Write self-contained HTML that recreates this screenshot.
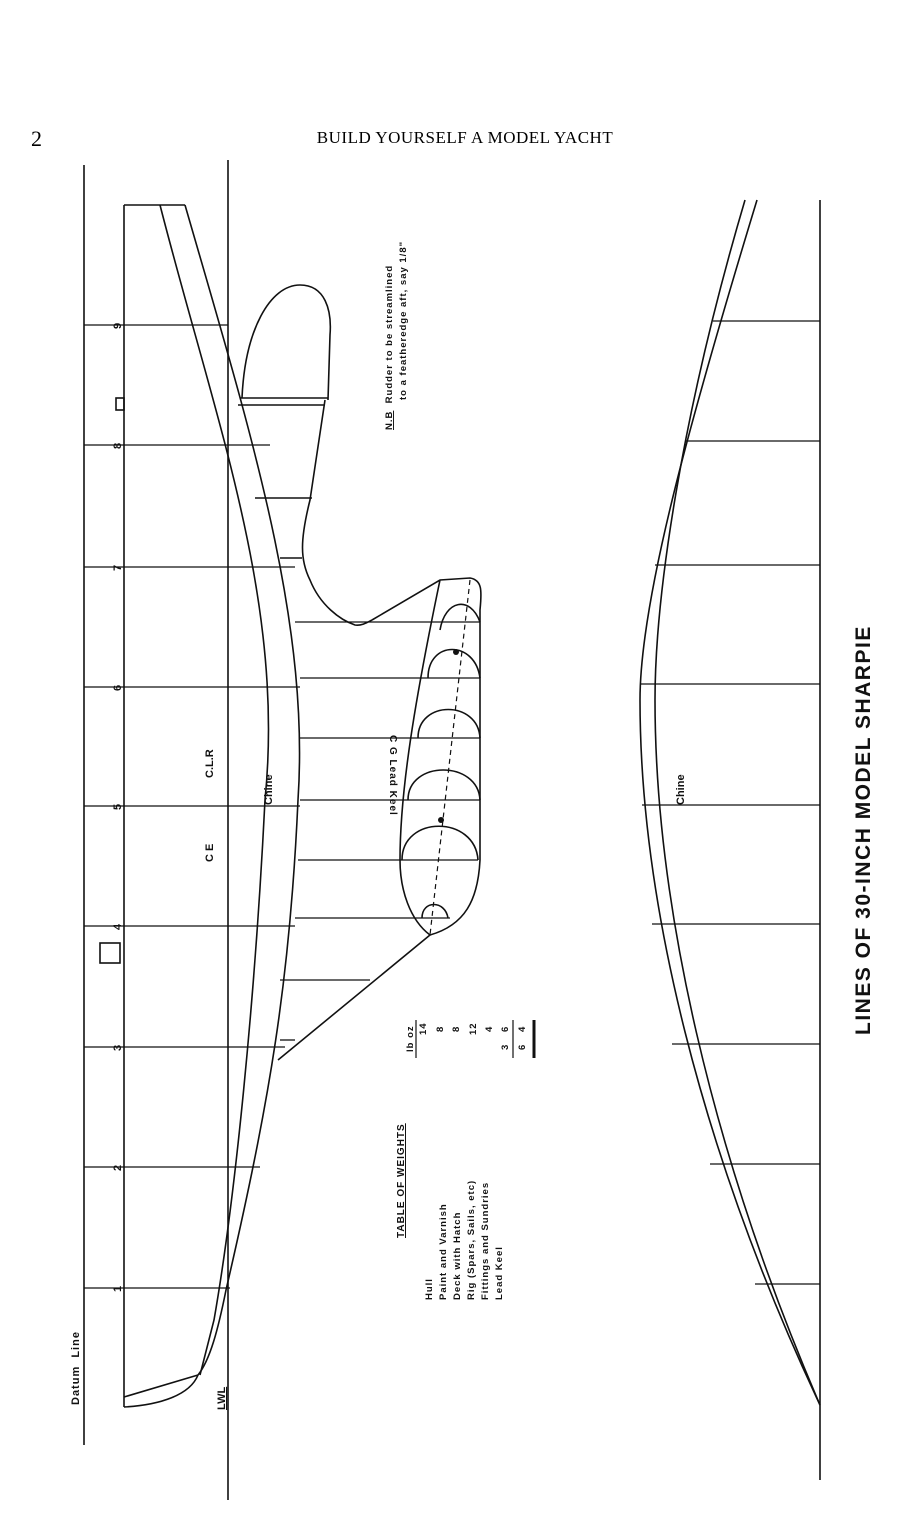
<!DOCTYPE html>
<html><head><meta charset="utf-8"><style>
html,body{margin:0;padding:0;background:#fff;}
svg{display:block}
</style></head><body>
<svg width="907" height="1525" viewBox="0 0 907 1525" xmlns="http://www.w3.org/2000/svg" font-family="Liberation Sans, sans-serif">
<rect width="907" height="1525" fill="#fff"/>
<text x="31" y="146" font-family="Liberation Serif, serif" font-size="22">2</text>
<text x="465" y="143" font-family="Liberation Serif, serif" font-size="17" text-anchor="middle" letter-spacing="0.5">BUILD YOURSELF A MODEL YACHT</text>

<g stroke="#111" stroke-width="1.6" fill="none">
<line x1="84" y1="165" x2="84" y2="1445"/>
<line x1="124" y1="205" x2="124" y2="1407"/>
<line x1="228" y1="160" x2="228" y2="1500"/>
<line x1="124" y1="205" x2="185" y2="205"/>
<path d="M160,205 C215,420 285,600 265,800 C255,1000 235,1200 214,1320 L200,1375"/>
<path d="M185,205 C250,430 310,620 298,800 C290,980 270,1100 226,1290 C218,1330 210,1360 198,1375 C190,1395 160,1405 124,1407"/>
<path d="M124,1397 L198,1375"/>
<g stroke-width="1.3">
<line x1="84" y1="325" x2="228" y2="325"/>
<line x1="84" y1="445" x2="270" y2="445"/>
<line x1="84" y1="567" x2="295" y2="567"/>
<line x1="84" y1="687" x2="300" y2="687"/>
<line x1="84" y1="806" x2="300" y2="806"/>
<line x1="84" y1="926" x2="295" y2="926"/>
<line x1="84" y1="1047" x2="285" y2="1047"/>
<line x1="84" y1="1167" x2="260" y2="1167"/>
<line x1="84" y1="1288" x2="230" y2="1288"/>
</g>
<path d="M242,398 C245,330 270,285 300,285 C325,285 332,310 330,335 L328,400"/>
<line x1="240" y1="398" x2="328" y2="398"/>
<line x1="238" y1="405" x2="325" y2="405"/>
<path d="M325,400 L310,500 C300,540 300,560 310,580 C320,605 340,620 355,625 C362,626 368,622 372,620"/>
<line x1="255" y1="498" x2="312" y2="498"/>
<line x1="280" y1="558" x2="302" y2="558"/>
<path d="M372,620 L440,580 L470,578 C482,580 482,590 480,610 L480,860 C478,900 465,925 430,935 C410,920 400,890 400,860 C400,790 415,700 440,580"/>
<line x1="430" y1="935" x2="278" y2="1060"/>
<g stroke-width="1.3">
<line x1="295" y1="622" x2="480" y2="622"/>
<line x1="300" y1="678" x2="480" y2="678"/>
<line x1="300" y1="738" x2="480" y2="738"/>
<line x1="300" y1="800" x2="480" y2="800"/>
<line x1="298" y1="860" x2="478" y2="860"/>
<line x1="295" y1="918" x2="450" y2="918"/>
<line x1="280" y1="980" x2="370" y2="980"/>
<line x1="280" y1="1040" x2="295" y2="1040"/>
</g>
<path d="M440,630 C445,600 470,595 480,622"/>
<path d="M428,678 C428,640 475,640 480,678"/>
<path d="M418,738 C418,700 478,700 480,738"/>
<path d="M408,800 C408,760 478,760 480,800"/>
<path d="M402,860 C402,815 475,815 478,860"/>
<path d="M422,918 C422,900 445,900 448,918"/>
<line x1="470" y1="580" x2="430" y2="935" stroke-dasharray="5,4" stroke-width="1.2"/>
<line x1="820" y1="200" x2="820" y2="1480"/>
<path d="M757,200 C690,420 640,600 640,700 C640,900 700,1150 820,1405"/>
<path d="M745,200 C680,420 655,600 655,700 C655,900 710,1150 820,1405"/>
<g stroke-width="1.3">
<line x1="713" y1="321" x2="820" y2="321"/>
<line x1="685" y1="441" x2="820" y2="441"/>
<line x1="655" y1="565" x2="820" y2="565"/>
<line x1="640" y1="684" x2="820" y2="684"/>
<line x1="642" y1="805" x2="820" y2="805"/>
<line x1="652" y1="924" x2="820" y2="924"/>
<line x1="672" y1="1044" x2="820" y2="1044"/>
<line x1="710" y1="1164" x2="820" y2="1164"/>
<line x1="755" y1="1284" x2="820" y2="1284"/>
</g>
<rect x="116" y="398" width="8" height="12"/>
<rect x="100" y="943" width="20" height="20"/>
</g>
<circle cx="441" cy="820" r="3" fill="#111"/>
<circle cx="456" cy="652" r="3" fill="#111"/>

<g font-size="11" fill="#111" font-weight="bold">
<text transform="translate(121,329) rotate(-90)">9</text>
<text transform="translate(121,449) rotate(-90)">8</text>
<text transform="translate(121,571) rotate(-90)">7</text>
<text transform="translate(121,691) rotate(-90)">6</text>
<text transform="translate(121,810) rotate(-90)">5</text>
<text transform="translate(121,930) rotate(-90)">4</text>
<text transform="translate(121,1051) rotate(-90)">3</text>
<text transform="translate(121,1171) rotate(-90)">2</text>
<text transform="translate(121,1292) rotate(-90)">1</text>
<text transform="translate(79,1405) rotate(-90)" letter-spacing="1">Datum&#160;&#160;Line</text>
<text transform="translate(225,1410) rotate(-90)" text-decoration="underline">LWL</text>
<text transform="translate(272,805) rotate(-90)">Chine</text>
<text transform="translate(684,805) rotate(-90)">Chine</text>
<text transform="translate(213,778) rotate(-90)">C.L.R</text>
<text transform="translate(213,862) rotate(-90)">C E</text>
<text transform="translate(390,735) rotate(90)" font-size="10" letter-spacing="1">C G Lead Keel</text>
<text transform="translate(392,430) rotate(-90)" font-size="9.5" letter-spacing="1"><tspan text-decoration="underline">N.B</tspan>&#160;&#160;Rudder to be streamlined</text>
<text transform="translate(406,400) rotate(-90)" font-size="9.5" letter-spacing="1">to a featheredge aft, say 1/8"</text>
<text transform="translate(404,1238) rotate(-90)" font-size="10" letter-spacing="1" text-decoration="underline">TABLE OF WEIGHTS</text>
<g font-size="9.5" letter-spacing="1">
<text transform="translate(432,1300) rotate(-90)">Hull</text>
<text transform="translate(446,1300) rotate(-90)">Paint and Varnish</text>
<text transform="translate(460,1300) rotate(-90)">Deck with Hatch</text>
<text transform="translate(474,1300) rotate(-90)">Rig (Spars, Sails, etc)</text>
<text transform="translate(488,1300) rotate(-90)">Fittings and Sundries</text>
<text transform="translate(502,1300) rotate(-90)">Lead Keel</text>
<text transform="translate(413,1052) rotate(-90)">lb  oz</text>
<text transform="translate(426,1035) rotate(-90)">14</text>
<text transform="translate(443,1032) rotate(-90)">8</text>
<text transform="translate(459,1032) rotate(-90)">8</text>
<text transform="translate(476,1035) rotate(-90)">12</text>
<text transform="translate(492,1032) rotate(-90)">4</text>
<text transform="translate(508,1032) rotate(-90)">6</text>
<text transform="translate(508,1050) rotate(-90)">3</text>
<text transform="translate(525,1050) rotate(-90)">6</text>
<text transform="translate(525,1032) rotate(-90)">4</text>
</g>
<text transform="translate(870,1035) rotate(-90)" font-size="21" letter-spacing="1.5">LINES OF 30-INCH MODEL SHARPIE</text>
</g>
<line x1="416" y1="1058" x2="416" y2="1020" stroke="#111" stroke-width="1.2"/>
<line x1="513" y1="1058" x2="513" y2="1020" stroke="#111" stroke-width="1.2"/>
<line x1="534" y1="1058" x2="534" y2="1020" stroke="#111" stroke-width="3"/>
</svg>
</body></html>
